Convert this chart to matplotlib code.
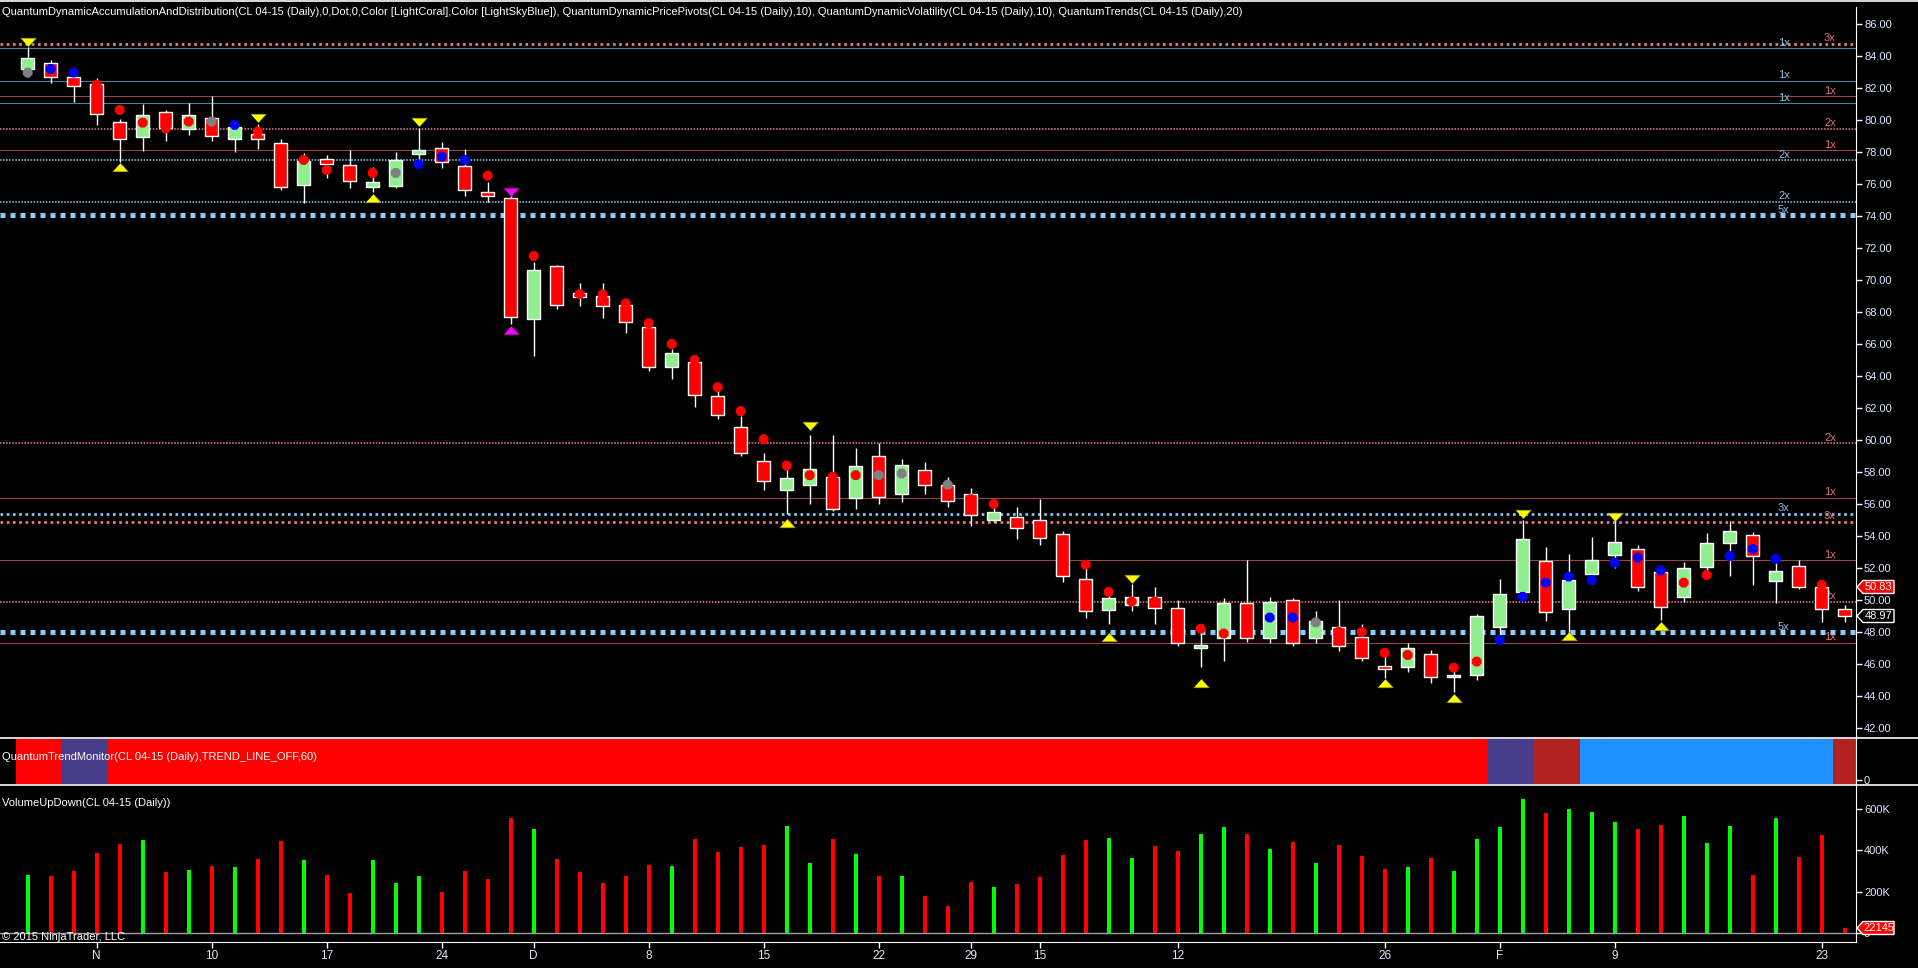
import matplotlib
matplotlib.use('Agg')
import matplotlib.pyplot as plt
from matplotlib.lines import Line2D
from matplotlib.patches import Rectangle, Polygon
import numpy as np

plt.rcParams['font.family'] = ['Liberation Sans', 'DejaVu Sans']
plt.rcParams['lines.scale_dashes'] = False

W, H = 1918, 968
FG = '#dfe8ff'
FS = 8

# daily OHLC, CL 04-15
opens = [83.17, 83.54, 82.67, 82.23, 79.85, 78.96, 80.48, 79.46, 80.10, 78.79,
         79.10, 78.54, 75.96, 77.54, 77.17, 75.83, 75.90, 77.90, 78.23, 77.12,
         75.48, 75.10, 67.58, 70.88, 69.17, 69.00, 68.44, 67.04, 64.58, 64.87,
         62.74, 60.80, 58.67, 56.90, 57.20, 57.70, 56.40, 59.00, 56.60, 58.10,
         57.20, 56.60, 55.00, 55.20, 55.00, 54.10, 51.30, 49.40, 49.70, 50.20,
         49.50, 47.00, 47.60, 49.80, 47.60, 50.00, 47.60, 48.30, 47.70, 45.90,
         45.83, 46.62, 45.17, 45.33, 48.33, 50.52, 52.44, 49.42, 51.60, 52.79,
         53.17, 51.73, 50.17, 52.08, 53.54, 54.04, 51.21, 52.12, 50.79, 49.42]
highs = [84.58, 83.75, 82.90, 82.60, 80.06, 81.00, 80.63, 81.04, 81.50, 79.70,
         79.75, 78.81, 77.92, 77.81, 78.12, 77.08, 78.00, 79.48, 78.60, 78.19,
         76.15, 75.30, 71.12, 70.94, 69.83, 69.83, 68.75, 67.50, 65.67, 65.00,
         63.10, 61.50, 59.20, 58.40, 60.30, 60.30, 59.50, 59.80, 58.80, 58.60,
         57.70, 57.00, 56.20, 55.80, 56.30, 54.30, 52.50, 50.60, 51.00, 50.80,
         50.00, 48.50, 50.10, 52.50, 50.20, 50.10, 49.30, 50.00, 48.50, 46.50,
         47.29, 46.90, 45.70, 49.12, 51.31, 55.00, 53.31, 52.88, 53.94, 55.00,
         53.44, 52.00, 52.38, 54.20, 54.96, 54.23, 52.50, 52.50, 51.00, 49.69]
lows = [82.70, 82.33, 81.15, 79.69, 77.40, 78.06, 78.71, 79.06, 78.71, 78.02,
        78.19, 75.63, 74.83, 76.35, 75.77, 75.52, 75.77, 77.29, 77.02, 75.25,
        74.85, 67.25, 65.27, 68.19, 68.38, 67.62, 66.70, 64.30, 63.80, 62.04,
        61.30, 58.97, 56.90, 55.40, 56.00, 55.55, 55.70, 56.00, 56.15, 56.60,
        55.80, 54.60, 54.85, 53.80, 53.45, 51.10, 48.90, 48.50, 49.30, 48.50,
        47.10, 45.80, 46.20, 47.40, 47.30, 47.10, 47.30, 46.80, 46.20, 45.10,
        45.52, 44.83, 44.27, 45.00, 47.80, 50.00, 48.71, 47.81, 51.00, 52.00,
        50.58, 48.75, 49.90, 51.30, 51.52, 50.96, 49.80, 50.67, 48.65, 48.65]
closes = [83.85, 82.71, 82.15, 80.40, 78.79, 80.29, 79.48, 80.29, 79.02, 79.54,
          78.79, 75.79, 77.44, 77.23, 76.21, 76.10, 77.48, 78.12, 77.40, 75.62,
          75.27, 67.70, 70.62, 68.46, 68.96, 68.40, 67.40, 64.58, 65.42, 62.81,
          61.56, 59.20, 57.45, 57.60, 58.20, 55.70, 58.40, 56.45, 58.45, 57.20,
          56.20, 55.30, 55.50, 54.50, 53.85, 51.50, 49.30, 50.10, 50.20, 49.50,
          47.30, 47.20, 49.80, 47.60, 49.90, 47.30, 48.70, 47.10, 46.40, 45.70,
          46.98, 45.17, 45.29, 49.00, 50.35, 53.79, 49.23, 51.25, 52.50, 53.60,
          50.79, 49.58, 51.98, 53.54, 54.29, 52.77, 51.79, 50.79, 49.42, 48.97]
volumes = [283, 274, 298, 389, 432, 451, 293, 307, 322, 317,
           360, 446, 355, 283, 192, 355, 240, 278, 197, 298,
           259, 557, 504, 360, 293, 240, 278, 331, 326, 456,
           394, 418, 427, 518, 341, 456, 384, 278, 274, 178,
           130, 245, 221, 235, 269, 379, 451, 461, 365, 422,
           398, 480, 514, 480, 408, 442, 341, 427, 374, 312,
           317, 365, 302, 456, 514, 648, 581, 600, 586, 538,
           504, 523, 566, 437, 518, 283, 557, 370, 475, 22.145]

# pivot dots: bar, price, colour
dot_bars = [0, 1, 2, 3, 4, 5, 6, 7, 8, 9, 10, 12, 13, 15, 16, 17, 18, 19, 20,
            22, 24, 25, 26, 27, 28, 29, 30, 31, 32, 33, 34, 35, 36, 37, 38, 40,
            41, 42, 46, 47, 48, 49, 51, 52, 54, 55, 56, 57, 58, 59, 60, 62, 63,
            64, 65, 66, 67, 68, 69, 70, 71, 72, 73, 74, 75, 76, 78]
dot_prices = [82.96, 83.19, 82.96, 82.20, 80.63, 79.83, 79.46, 79.90, 79.90, 79.69,
              79.27, 77.50, 76.88, 76.69, 76.69, 77.23, 77.71, 77.50, 76.52,
              71.50, 69.12, 69.10, 68.54, 67.29, 66.00, 65.00, 63.30, 61.80, 60.05,
              58.40, 57.80, 57.70, 57.80, 57.80, 57.90, 57.20,
              56.30, 56.00, 52.20, 50.50, 49.90, 49.90, 48.20, 47.90, 48.90, 48.90,
              48.60, 48.00, 48.00, 46.70, 46.56, 45.77, 46.15,
              47.50, 50.20, 51.08, 51.46, 51.25, 52.33, 52.65, 51.85, 51.08, 51.56,
              52.75, 53.19, 52.56, 50.94]
dot_colors = ['gray', 'blue', 'blue', 'red', 'red', 'red', 'red', 'red', 'gray', 'blue',
              'red', 'red', 'red', 'red', 'gray', 'blue', 'blue', 'blue', 'red',
              'red', 'red', 'red', 'red', 'red', 'red', 'red', 'red', 'red', 'red',
              'red', 'red', 'red', 'red', 'gray', 'gray', 'gray',
              'red', 'red', 'red', 'red', 'red', 'red', 'red', 'red', 'blue', 'blue',
              'gray', 'red', 'red', 'red', 'red', 'red', 'red',
              'blue', 'blue', 'blue', 'blue', 'blue', 'blue', 'blue', 'blue', 'red', 'red',
              'blue', 'blue', 'blue', 'red']

# trend triangles: bar, price, direction, colour
tri_bars = [0, 4, 10, 15, 17, 21, 21, 33, 34, 47, 48, 51, 59, 62, 65, 67, 69, 71]
tri_prices = [84.90, 77.04, 80.10, 75.10, 79.85, 75.50, 66.90, 54.80, 60.90, 47.70,
              51.30, 44.80, 44.80, 43.90, 55.40, 47.75, 55.20, 48.40]
tri_dirs = ['v', '^', 'v', '^', 'v', 'v', '^', '^', 'v', '^',
            'v', '^', '^', '^', 'v', '^', 'v', '^']
tri_colors = ['yellow'] * 5 + ['magenta', 'magenta'] + ['yellow'] * 11

# trend monitor colour per bar
trend_colors = (['#ff0000'] * 2 + ['#483d8b'] * 2 + ['#ff0000'] * 60 + ['#483d8b'] * 2
                + ['#b22222'] * 2 + ['#1e90ff'] * 11 + ['#b22222'])

# accumulation / distribution levels
coral_levels = [84.75, 81.48, 79.44, 78.10, 59.79, 56.36, 54.875, 52.48, 49.875, 47.31]
coral_labels = ['3x', '1x', '2x', '1x', '2x', '1x', '3x', '1x', '2x', '1x']
blue_levels = [84.48, 82.44, 81.04, 77.48, 74.875, 74.04, 55.36, 47.98]
blue_labels = ['1x', '1x', '1x', '2x', '2x', '5x', '3x', '5x']

xtick_bars = [3, 8, 13, 18, 22, 27, 32, 37, 41, 44, 50, 59, 64, 69, 78]
xtick_labels = ['N', '10', '17', '24', 'D', '8', '15', '22', '29', '15', '12', '26', 'F', '9', '23']

AX_X = 1855.7
XLIM = (-1.204, 79.478)


def rect(x0, y0, x1, y1):
    return [x0 / W, 1 - y1 / H, (x1 - x0) / W, (y1 - y0) / H]


def style(a):
    a.set_facecolor('black')
    for s in ['top', 'left', 'bottom']:
        a.spines[s].set_visible(False)
    a.spines['right'].set_color('white')
    a.yaxis.tick_right()
    a.tick_params(axis='y', colors='white', labelcolor=FG, labelsize=FS,
                  length=4, width=1, pad=2)
    a.set_xticks([])
    a.set_xlim(*XLIM)


def level_style(mult, blue):
    if mult == '1x':
        return dict(color='#4f7f9f' if blue else '#9a4646', lw=0.8, ls='-')
    if mult == '2x':
        return dict(color='#80bfe8' if blue else '#e07a7a', lw=1.2, ls=(0, (1.1, 1.1)))
    if mult == '3x':
        return dict(color='#87cefa' if blue else '#f08080', lw=1.9, ls=(0, (1.9, 2.6)))
    return dict(color='#87cefa', lw=3.6, ls=(0, (3.6, 3.6)))


def tag(ypix, text, face, edge):
    pts = [(1857, ypix), (1863, ypix - 6.5), (1894, ypix - 6.5), (1894, ypix + 6.5), (1863, ypix + 6.5)]
    fig.add_artist(Polygon([(x / W, 1 - y / H) for x, y in pts], closed=True,
                           facecolor=face, edgecolor=edge, lw=1, transform=fig.transFigure,
                           zorder=10))
    fig.text(1878.5 / W, 1 - ypix / H, text, color='white', fontsize=8,
             ha='center', va='center', zorder=11)


fig = plt.figure(figsize=(W / 100, H / 100), dpi=100, facecolor='black')
ax = fig.add_axes(rect(0, 7, AX_X, 737.7))
ax_t = fig.add_axes(rect(0, 738.3, AX_X, 785))
ax_v = fig.add_axes(rect(0, 785.7, AX_X, 942))
for a in (ax, ax_t, ax_v):
    style(a)

# price panel
ax.set_ylim(41.39, 87.06)
ax.set_yticks(np.arange(42, 87, 2))
ax.set_yticklabels([f'{v:.2f}' for v in np.arange(42, 87, 2)])

for lv, lb in zip(coral_levels, coral_labels):
    ax.axhline(lv, zorder=1, **level_style(lb, False))
    ax.annotate(lb, (1824 / AX_X, lv), xycoords=('axes fraction', 'data'),
                xytext=(0, 0.5), textcoords='offset points', color='#e07070',
                fontsize=FS, va='bottom', ha='left', zorder=2)
for lv, lb in zip(blue_levels, blue_labels):
    ax.axhline(lv, zorder=1, **level_style(lb, True))
    ax.annotate(lb, (1778 / AX_X, lv), xycoords=('axes fraction', 'data'),
                xytext=(0, 0.5), textcoords='offset points', color='#8fc0e0',
                fontsize=FS, va='bottom', ha='left', zorder=2)

bw = 0.55
for i, (o, h, l, c) in enumerate(zip(opens, highs, lows, closes)):
    ax.vlines(i, l, h, color='white', lw=1, zorder=3)
    fc = '#90ee90' if c >= o else '#ff0000'
    ax.add_patch(Rectangle((i - bw / 2, min(o, c)), bw, max(abs(c - o), 0.08),
                           facecolor=fc, edgecolor='white', lw=1, zorder=4))

ax.scatter(dot_bars, dot_prices, c=dot_colors, marker='8', s=58, zorder=5, linewidths=0)
down = [(-1, 0.55), (1, 0.55), (0, -0.55)]
up = [(-1, -0.55), (1, -0.55), (0, 0.55)]
for b, p, d, col in zip(tri_bars, tri_prices, tri_dirs, tri_colors):
    ax.scatter([b], [p], marker=down if d == 'v' else up, s=125, c=col,
               edgecolors='#909000' if col == 'yellow' else '#900090', linewidths=0.5, zorder=5)

# trend monitor panel
ax_t.set_ylim(-0.12, 1)
for i, col in enumerate(trend_colors):
    ax_t.axvspan(i - 0.5, i + 0.5, ymin=0.02, ymax=0.99, color=col, lw=0)
ax_t.set_yticks([0])
ax_t.set_yticklabels(['0'])

# volume panel
ax_v.set_ylim(-43.5, 712.8)
vcols = ['#00ff00' if c >= o else '#ff0000' for o, c in zip(opens, closes)]
ax_v.bar(range(len(volumes)), volumes, width=0.18, color=vcols, zorder=2)
ax_v.axhline(0, color='#a0a0a0', lw=1, zorder=1)
ax_v.set_yticks([0, 200, 400, 600])
ax_v.set_yticklabels(['0', '200K', '400K', '600K'])
ax_v.spines['bottom'].set_visible(True)
ax_v.spines['bottom'].set_color('white')
ax_v.set_xticks(xtick_bars)
ax_v.set_xticklabels(xtick_labels)
ax_v.tick_params(axis='x', colors='white', labelcolor=FG, labelsize=FS + 0.5,
                 length=4, width=1, pad=2)

# panel borders
for yp, x1 in [(0.8, W), (738, W), (785.3, W)]:
    fig.add_artist(Line2D([0, x1 / W], [1 - yp / H, 1 - yp / H], color='white', lw=1.2))

# titles
fig.text(2 / W, 1 - 12 / H,
         'QuantumDynamicAccumulationAndDistribution(CL 04-15 (Daily),0,Dot,0,Color [LightCoral],'
         'Color [LightSkyBlue]), QuantumDynamicPricePivots(CL 04-15 (Daily),10), '
         'QuantumDynamicVolatility(CL 04-15 (Daily),10), QuantumTrends(CL 04-15 (Daily),20)',
         color='white', fontsize=FS, va='center', ha='left')
fig.text(2 / W, 1 - 757 / H, 'QuantumTrendMonitor(CL 04-15 (Daily),TREND_LINE_OFF,60)',
         color='white', fontsize=FS, va='center', ha='left')
fig.text(2 / W, 1 - 803 / H, 'VolumeUpDown(CL 04-15 (Daily))',
         color='white', fontsize=FS, va='center', ha='left')
fig.text(2 / W, 1 - 937 / H, '\u00a9 2015 NinjaTrader, LLC',
         color='white', fontsize=FS, va='center', ha='left')

# last value tags
tag(587, '50.83', '#ff0000', 'white')
tag(616, '48.97', 'black', 'white')
tag(928, '22145', '#ff0000', 'white')

fig.savefig('out.png', dpi=100, facecolor='black')
